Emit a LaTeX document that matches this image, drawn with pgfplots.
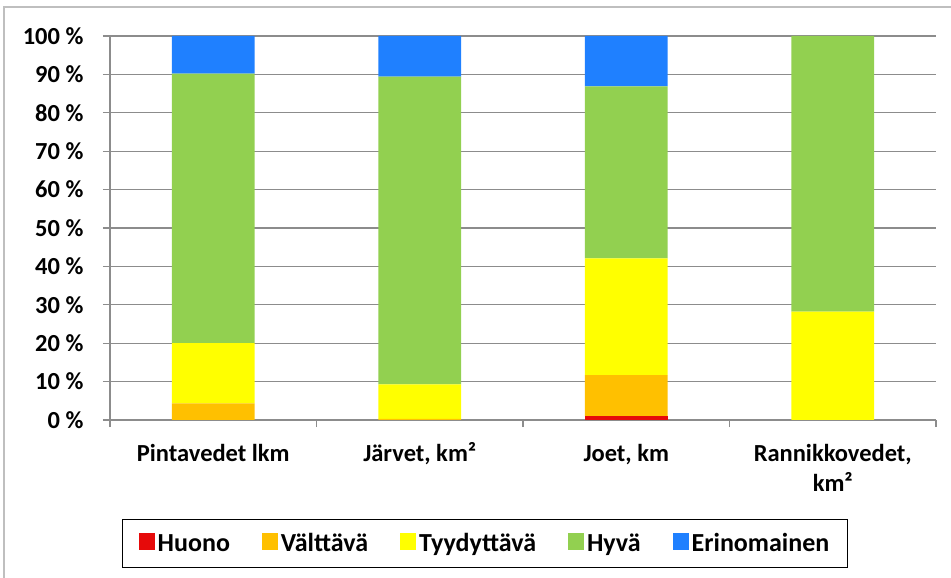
\documentclass[border=0pt]{standalone}
\usepackage{pgfplots}
\pgfplotsset{compat=1.18}
\usepackage{fontspec}
\setmainfont{Carlito}
\definecolor{huono}{RGB}{230,10,10}
\definecolor{valttava}{RGB}{255,192,0}
\definecolor{tyyd}{RGB}{255,255,0}
\definecolor{hyva}{RGB}{146,208,80}
\definecolor{erin}{RGB}{31,128,255}
\definecolor{gridgray}{RGB}{140,140,140}
\begin{document}
\begin{tikzpicture}
\draw[gray!50, line width=1.2bp] (4bp,0bp) -- (4bp,571bp) -- (951bp,571bp);
\begin{axis}[
  at={(110bp,158bp)}, anchor=south west,
  width=826bp, height=384bp, scale only axis,
  ybar stacked, bar width=0.4,
  xmin=-0.5, xmax=3.5, ymin=0, ymax=100,
  axis x line*=bottom, axis y line*=left,
  axis line style={draw=gridgray, line width=1.2bp, -},
  ytick={0,10,...,100},
  yticklabels={0 \%,10 \%,20 \%,30 \%,40 \%,50 \%,60 \%,70 \%,80 \%,90 \%,100 \%},
  ymajorgrids, grid style={draw=gridgray, line width=1.2bp},
  xtick={0,1,2,3},
  xticklabels={\strut Pintavedet lkm,{\strut Järvet, km²},{\strut Joet, km},{\strut Rannikkovedet,\\km²}},
  minor xtick={-0.5,0.5,1.5,2.5,3.5},
  major x tick style={draw=none},
  tick align=outside, major tick length=7bp, minor tick length=7bp,
  tick style={draw=gridgray, line width=1.2bp},
  xticklabel style={font=\bfseries\fontsize{24.5bp}{30bp}\selectfont, align=center, anchor=north, yshift=-10bp},
  yticklabel style={font=\bfseries\fontsize{24.5bp}{28bp}\selectfont, anchor=east, xshift=-16bp},
  legend columns=-1,
  legend style={at={(0.454,-0.258)}, anchor=north, draw=black, line width=1bp,
    font=\bfseries\fontsize{26bp}{30bp}\selectfont,
    inner xsep=16bp, inner ysep=12bp,
    /tikz/every even column/.append style={column sep=30bp},
    /tikz/every odd column/.append style={column sep=1bp}},
  legend image code/.code={\fill[#1] (0bp,-7bp) rectangle (16bp,10bp);},
]
\addplot[fill=huono, draw=none] coordinates {(0,0) (1,0) (2,1.1) (3,0)};
\addplot[fill=valttava, draw=none] coordinates {(0,4.3) (1,0.3) (2,10.6) (3,0)};
\addplot[fill=tyyd, draw=none] coordinates {(0,15.7) (1,9.0) (2,30.4) (3,28.2)};
\addplot[fill=hyva, draw=none] coordinates {(0,70.2) (1,80.1) (2,44.8) (3,71.8)};
\addplot[fill=erin, draw=none] coordinates {(0,9.8) (1,10.6) (2,13.1) (3,0)};
\legend{Huono,Välttävä,Tyydyttävä,Hyvä,Erinomainen}
\end{axis}
\pgfresetboundingbox
\useasboundingbox (0bp,0bp) rectangle (951bp,578bp);
\end{tikzpicture}
\end{document}
